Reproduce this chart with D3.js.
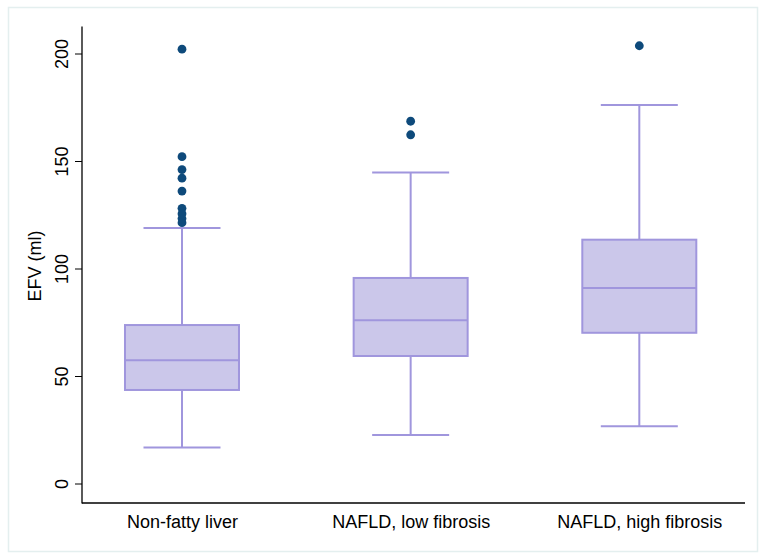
<!DOCTYPE html>
<html><head><meta charset="utf-8">
<script src="https://cdn.jsdelivr.net/npm/d3@7"></script>
<style>body{margin:0;background:#fff}svg{display:block;font-family:"Liberation Sans",Arial,sans-serif}</style>
</head><body><svg id="c" width="770" height="559"></svg>
<script>
const categories = ["Non-fatty liver", "NAFLD, low fibrosis", "NAFLD, high fibrosis"];
const lowerWhisker = [16.8, 22.6, 26.6];
const q1 = [43.5, 59.3, 70.1];
const median = [57.3, 75.9, 90.9];
const q3 = [73.7, 95.6, 113.4];
const upperWhisker = [118.8, 144.6, 176.0];
const outliers = [
  [202, 152, 146, 142, 136, 128, 125.5, 123.2, 121.3],
  [168.5, 162.2],
  [203.6]
];
const yTicks = [0, 50, 100, 150, 200];
const yTitle = "EFV (ml)";

const svg = d3.select("#c");
svg.append("rect").attr("x",8.5).attr("y",7.5).attr("width",749).attr("height",544)
  .attr("fill","#fff").attr("stroke","#e4efef").attr("stroke-width",1.5);

const y = d3.scaleLinear().domain([0,200]).range([483.5,53.5]);
const x = d3.scalePoint().domain(categories).range([82,739.3]).padding(0.4373);
const boxW = 114, capW = 77;
const fill = "#cbc7ea", stroke = "#a096dd", dot = "#0e4a7b";
const fs = 18;

// axes
const yAx = svg.append("g").attr("transform","translate(82,0)")
  .call(d3.axisLeft(y).tickValues(yTicks).tickSize(7).tickSizeOuter(0));
yAx.select(".domain").remove();
yAx.selectAll(".tick line").attr("stroke","#000").attr("stroke-width",1);
yAx.selectAll(".tick text").attr("font-size",fs).attr("fill","#000")
  .attr("transform","rotate(-90)").attr("x",0).attr("y",-20).attr("dy","0.35em")
  .attr("text-anchor","middle").attr("dx",0);
svg.append("line").attr("x1",82).attr("x2",82).attr("y1",26.5).attr("y2",503.5).attr("stroke","#000").attr("stroke-width",1.3);
svg.append("line").attr("x1",82).attr("x2",745).attr("y1",503).attr("y2",503).attr("stroke","#000").attr("stroke-width",1.3);

const xAx = svg.append("g").attr("transform","translate(0,503)")
  .call(d3.axisBottom(x).tickSize(0));
xAx.select(".domain").remove();
xAx.selectAll(".tick text").attr("font-size",fs).attr("fill","#000").attr("y",0).attr("dy","25px");

svg.append("text").attr("transform","translate(41,266) rotate(-90)")
  .attr("text-anchor","middle").attr("font-size",fs).text(yTitle);

categories.forEach((c,i)=>{
  const cx = x(c);
  const g = svg.append("g");
  g.append("line").attr("x1",cx).attr("x2",cx).attr("y1",y(upperWhisker[i])).attr("y2",y(q3[i])).attr("stroke",stroke).attr("stroke-width",2);
  g.append("line").attr("x1",cx).attr("x2",cx).attr("y1",y(q1[i])).attr("y2",y(lowerWhisker[i])).attr("stroke",stroke).attr("stroke-width",2);
  g.append("line").attr("x1",cx-capW/2).attr("x2",cx+capW/2).attr("y1",y(upperWhisker[i])).attr("y2",y(upperWhisker[i])).attr("stroke",stroke).attr("stroke-width",2);
  g.append("line").attr("x1",cx-capW/2).attr("x2",cx+capW/2).attr("y1",y(lowerWhisker[i])).attr("y2",y(lowerWhisker[i])).attr("stroke",stroke).attr("stroke-width",2);
  g.append("rect").attr("x",cx-boxW/2).attr("width",boxW).attr("y",y(q3[i])).attr("height",y(q1[i])-y(q3[i]))
    .attr("fill",fill).attr("stroke",stroke).attr("stroke-width",2);
  g.append("line").attr("x1",cx-boxW/2).attr("x2",cx+boxW/2).attr("y1",y(median[i])).attr("y2",y(median[i])).attr("stroke",stroke).attr("stroke-width",2);
  g.selectAll("circle").data(outliers[i]).join("circle")
    .attr("cx",cx).attr("cy",d=>y(d)).attr("r",4.4).attr("fill",dot);
});
</script></body></html>
